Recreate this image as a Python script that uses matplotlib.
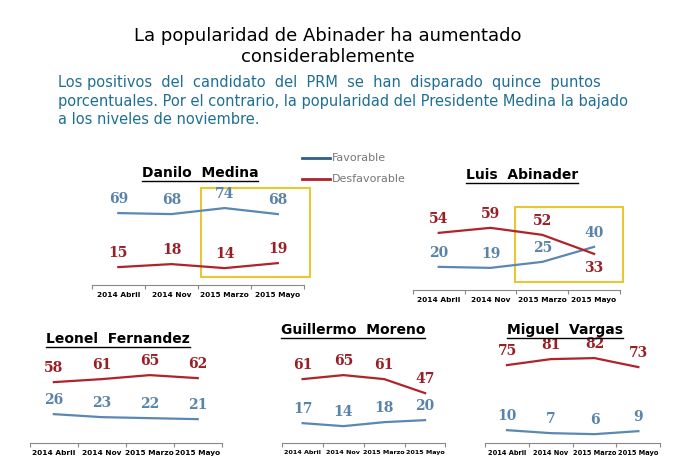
import matplotlib.pyplot as plt
from matplotlib.patches import Rectangle
from matplotlib.lines import Line2D

periodos = ['2014 Abril', '2014 Nov', '2015 Marzo', '2015 Mayo']
nombres = ['Danilo  Medina', 'Luis  Abinader', 'Leonel  Fernandez', 'Guillermo  Moreno', 'Miguel  Vargas']
favorable = [[69, 68, 74, 68], [20, 19, 25, 40], [26, 23, 22, 21], [17, 14, 18, 20], [10, 7, 6, 9]]
desfavorable = [[15, 18, 14, 19], [54, 59, 52, 33], [58, 61, 65, 62], [61, 65, 61, 47], [75, 81, 82, 73]]

AZUL = '#5b87b3'
ROJO = '#b0232a'
AZUL_T = '#5a83aa'
ROJO_T = '#9a1f25'

fig = plt.figure(figsize=(6.95, 4.76), dpi=100)
fig.patch.set_facecolor('white')

fig.text(0.472, 0.925, 'La popularidad de Abinader ha aumentado', ha='center', va='center', fontsize=13)
fig.text(0.472, 0.880, 'considerablemente', ha='center', va='center', fontsize=13)
sub = ['Los positivos  del  candidato  del  PRM  se  han  disparado  quince  puntos',
       'porcentuales. Por el contrario, la popularidad del Presidente Medina la bajado',
       'a los niveles de noviembre.']
for i, s in enumerate(sub):
    fig.text(0.083, 0.826 - i * 0.039, s, ha='left', va='center', fontsize=10.5, color='#1f6f94')

# posiciones de los paneles (fraccion de figura)
pos = [[0.132, 0.401, 0.306, 0.206], [0.594, 0.391, 0.298, 0.206],
       [0.043, 0.069, 0.276, 0.206], [0.406, 0.069, 0.235, 0.206],
       [0.698, 0.069, 0.252, 0.206]]
titulos_xy = [(0.288, 0.636), (0.751, 0.632), (0.170, 0.288), (0.508, 0.307), (0.813, 0.307)]
cajas = [(1.55, 5, 2.05, 89), (1.48, 5, 2.07, 75), None, None, None]
tam_ticks = [5.3, 5.3, 5.3, 4.6, 4.8]

titulos = []
for k in range(5):
    ax = fig.add_axes(pos[k])
    x = range(4)
    ax.plot(x, favorable[k], color=AZUL, lw=1.6)
    ax.plot(x, desfavorable[k], color=ROJO, lw=1.6)
    for xi, v in zip(x, favorable[k]):
        ax.annotate(str(v), (xi, v), xytext=(0, 5), textcoords='offset points', ha='center',
                    va='bottom', color=AZUL_T, fontsize=10, fontweight='bold', family='DejaVu Serif')
    for xi, v in zip(x, desfavorable[k]):
        abajo = (k == 1 and xi == 3)
        ax.annotate(str(v), (xi, v), xytext=(0, -5 if abajo else 5), textcoords='offset points',
                    ha='center', va='top' if abajo else 'bottom', color=ROJO_T, fontsize=10,
                    fontweight='bold', family='DejaVu Serif')
    ax.set_xlim(-0.5, 3.5)
    ax.set_ylim(-3, 95)
    for s in ['top', 'right', 'left']:
        ax.spines[s].set_visible(False)
    ax.spines['bottom'].set_color('#888888')
    ax.set_yticks([])
    ax.set_xticks([-0.5, 0.5, 1.5, 2.5, 3.5])
    ax.set_xticklabels([])
    ax.tick_params(axis='x', which='major', length=3, color='#888888')
    ax.set_xticks(list(x), minor=True)
    ax.set_xticklabels(periodos, minor=True, fontsize=tam_ticks[k], fontweight='bold')
    ax.tick_params(axis='x', which='minor', length=0, pad=5)
    if cajas[k]:
        x0, y0, w, h = cajas[k]
        ax.add_patch(Rectangle((x0, y0), w, h, fill=False, ec='#e8c832', lw=1.5, clip_on=False))
    t = fig.text(*titulos_xy[k], nombres[k], ha='center', va='center', fontsize=10, fontweight='bold')
    titulos.append(t)

# leyenda
fig.add_artist(Line2D([0.435, 0.475], [0.668, 0.668], color='#2f5f8a', lw=2))
fig.add_artist(Line2D([0.435, 0.475], [0.624, 0.624], color=ROJO, lw=2))
fig.text(0.478, 0.668, 'Favorable', va='center', fontsize=8, color='#777777')
fig.text(0.478, 0.624, 'Desfavorable', va='center', fontsize=8, color='#777777')

# subrayado de los nombres
fig.canvas.draw()
r = fig.canvas.get_renderer()
for t in titulos:
    bb = t.get_window_extent(r).transformed(fig.transFigure.inverted())
    fig.add_artist(Line2D([bb.x0, bb.x1], [bb.y0 - 0.002, bb.y0 - 0.002], color='black', lw=1))

fig.savefig('out.png', dpi=100)
